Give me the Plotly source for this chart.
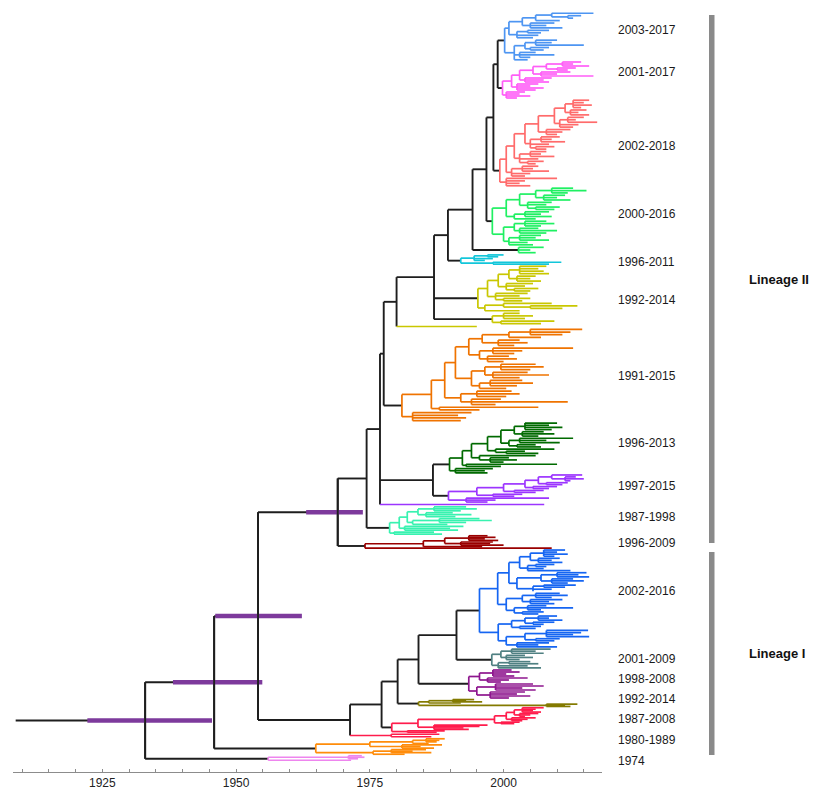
import plotly.graph_objects as go

# ======================= DATA =======================
ROOT_STEM_START = 1908.8

# clades, top to bottom, with the number of sequences (rows) each occupies
CLADE_KEYS = ["BL", "MG", "RD", "GR", "GRs", "CY", "YLm", "YLs", "YLt", "OR", "DG", "PU", "PUt",
              "AQ", "DR", "BL2", "SL", "PM", "OL", "RED", "REDe", "OR2", "PK"]
CLADE_SEQS = [49, 38, 88, 59, 8, 11, 47, 13, 3, 94, 52, 29, 3, 29, 14,
              99, 21, 30, 8, 26, 5, 17, 6]

# subtrees: node = [node_year, child, child, ...], tip = sampling year
tree_BL = [2000.2,
           [2001.0,
            [2003.5,
             [2006.0, [2009.0, 2016.8, [2012.0, 2014.5, 2013.0]], 2010.5],
             [2005.0, 2009.5, 2008.0, 2011.0]],
            [2002.5, [2004.5, 2008.5, 2007.0], 2006.5, 2005.5]],
           [2002.0,
            [2004.0, [2006.0, 2010.0, 2009.0, 2015.0], [2005.0, 2008.5, 2007.5]],
            [2003.0, 2006.0, 2009.5, 2005.0],
            2004.5]]
tree_MG = [1999.8,
           [2001.5,
            [2003.0,
             [2005.5,
              [2008.0, [2011.0, 2014.5, 2013.0, 2016.0], [2010.0, 2013.5, 2012.0]],
              [2007.0, 2012.5, 2010.0, 2016.8]],
             [2004.0, 2009.0, 2007.5, 2008.5]],
            [2002.5, 2006.5, 2005.0, 2007.5, 2006.0]],
           [2000.5, 2004.0, 2003.0, 2005.0, 2002.5]]
tree_RD = [1999.3,
           [2000.5,
            [2002.0,
             [2004.0,
              [2006.5,
               [2009.5,
                [2011.5, [2013.0, 2016.0, 2015.0, 2016.5, 2014.5], [2012.5, 2015.5, 2014.0, 2016.0]],
                [2010.5, [2012.0, 2015.0, 2013.5, 2017.5], 2014.0, 2013.0]],
               [2008.0, 2012.5, 2011.0, 2010.0]],
              [2005.0, [2007.0, 2010.5, 2009.0, 2011.5], 2008.5, [2006.0, 2009.5, 2008.0]]],
             [2003.0, [2005.0, 2008.0, 2007.0, 2009.5], 2006.5, [2004.5, 2007.5, 2006.0]]],
            [2001.5, [2003.5, 2006.5, 2005.5, 2008.5], 2005.0, 2004.0]],
           [2000.5, 2010.0, 2004.0, 2003.0, 2005.0]]
tree_GR = [1997.9,
           [2000.5,
            [2003.0,
             [2006.0, [2009.0, 2013.0, 2015.5, 2012.0], [2007.5, 2011.5, 2010.0, 2012.5]],
             [2004.5, 2009.0, 2008.0, [2006.0, 2010.5, 2009.5]]],
            [2002.0, [2004.0, 2008.5, 2007.0, 2009.0], 2006.0]],
           [2000.0,
            [2002.0, [2004.0, 2008.0, 2009.5, 2007.0], [2003.0, 2006.5, 2010.0, 2008.0]],
            [2001.0, [2003.0, 2007.0, 2006.0, 2008.5], 2004.5, 2005.5]]]
tree_GRs = [2002.8, 2007.5, 2005.0, 2006.0]
tree_CY = [1992.0, [1994.5, [1997.0, 2000.0, 1999.0], 1998.0, 1996.5], [1998.0, 2010.8, 2008.5]]
tree_YLm = [1995.2,
            [1997.0,
             [1999.0,
              [2001.0, [2003.0, 2008.0, 2006.5, 2007.5, 2008.5], [2002.5, 2006.0, 2005.0, 2007.0]],
              [2000.5, 2005.5, 2004.0, [2002.0, 2006.5, 2005.0]]],
             [1998.5, 2004.5, 2003.0, [2000.0, 2005.0, 2003.5]]],
            [1996.5, [2000.0, 2009.0, [2005.0, 2013.8, 2011.0]], 2003.0]]
tree_YLs = [1997.9, [2000.0, 2003.0, 2005.5, 2004.0], [1999.5, 2009.5, 2007.0]]
tree_YLt = 1995.0
tree_OR = [1981.0,
           [1986.5,
            [1989.0,
             [1991.0,
              [1993.5,
               [1996.0, [2001.0, [2005.0, 2014.7, 2012.5, 2011.0], 2007.0], [1999.0, 2003.0, 2004.5, 2002.0]],
               [1995.5, [1998.0, 2013.0, 2003.5, 2002.0], [1997.0, 2001.0, 2002.5, 2000.0]]],
              [1994.0,
               [1996.5, [1999.5, 2006.0, 2007.5, 2005.0], [1998.0, 2004.5, 2008.5, 2003.0]],
               [1995.5, [1997.5, 2003.5, 2005.5, 2002.5], 2000.5]]],
             [1992.0, [1995.0, 2001.5, 2003.0, 2000.5], [1994.0, 1999.5, 2012.0, 1998.5]]],
            [1988.0, 2006.5, 1995.5]],
           [1983.0, 1994.0, 1991.5, 1993.0, 1992.0]]
tree_DG = [1989.9,
           [1992.3,
            [1994.0,
             [1997.0,
              [1999.5,
               [2002.0, [2004.0, 2010.0, 2008.5, 2011.0, 2009.0], [2003.5, 2007.5, 2009.5, 2006.5]],
               [2001.0, [2003.0, 2013.0, 2008.0, 2010.5], [2002.5, 2006.0, 2007.0]]],
              [1998.5, 2009.5, [2000.5, 2004.0, 2006.5]]],
             [1995.5, 2006.0, [1997.5, 2001.0, 2002.5, 2000.0]]],
            [1993.0, 2010.0, 1999.5]],
           [1991.0, 1998.0, 1996.5, 1997.0]]
tree_PU = [1989.7,
           [1995.0,
            [2000.0,
             [2004.0,
              [2006.5, [2009.0, 2014.7, [2011.5, 2013.5, 2015.0, 2012.5]], [2008.0, 2012.0, 2011.0]],
              [2005.5, 2010.0, 2008.5]],
             [2002.0, 2007.5, 2006.0]],
            [1998.0, 2003.5, 2002.0]],
           [1993.0, 2008.5, 1998.5, 1997.0]]
tree_PUt = 2007.6
tree_AQ = [1978.7,
           [1980.5,
            [1982.0,
             [1984.0, [1987.0, 1993.0, 1995.0, 1992.0], [1985.5, 1990.5, 1994.0, 1991.0]],
             [1983.0, [1988.0, 1995.5, 1997.8, 1993.0], 1989.5]],
            [1981.5, 1992.5, 1990.0, 1991.5]],
           [1979.5, 1987.0, 1988.5]]
tree_DR = [1974.1,
           [1985.0,
            [1989.0, [1993.5, 1997.0, 1998.5, 1996.5, 1999.0], [1992.0, 1998.0, 1997.5, 2000.0]],
            1996.0],
           2009.0]
tree_BL2 = [1995.5,
            [1998.9,
             [2001.0,
              [2003.0,
               [2005.0, [2007.5, 2011.5, 2010.0, 2012.0, 2009.5], [2006.5, 2010.5, 2009.0, 2011.0]],
               [2004.5, [2006.0, 2009.5, 2008.0], 2007.5, 2012.5]],
              [2002.5,
               [2007.0, [2010.0, 2015.5, 2014.0, 2016.0], [2009.0, 2013.0, 2015.0, 2012.0]],
               [2005.5, [2007.5, 2013.5, 2011.5], 2009.0, 2005.5]]],
             [2000.5,
              [2003.5, [2006.0, 2010.5, 2012.0, 2009.0], [2005.0, 2011.0, 2008.5, 2009.5]],
              [2002.0, [2004.5, 2008.0, 2013.0, 2007.0], [2003.5, 2007.5, 2006.5]]]],
            [1999.0,
             [2001.5,
              [2004.0, [2006.5, 2010.0, 2008.5, 2011.0], [2005.5, 2009.5, 2007.5]],
              [2003.0, 2007.0, 2006.0]],
             [2000.5,
              [2004.0, [2008.0, 2015.8, 2014.5, 2013.0, 2016.0], [2006.0, 2010.5, 2009.5]],
              [2002.5, 2008.5, 2006.5, 2010.0]]]]
tree_SL = [1997.8,
           [1999.5, [2001.5, 2008.8, 2006.0, 2007.5], [2000.5, 2004.0, 2005.5, 2003.0]],
           [1999.0, [2001.0, 2005.0, 2006.5], 2004.5, 2007.0]]
tree_PM = [1993.5,
           [1995.5, [1998.0, 2001.5, 2003.0, 2000.5, 2002.0], [1997.0, 2004.5, 2001.0, 1999.5]],
           [1995.0, [1998.5, 2005.5, 2007.5, 2003.5, 2006.0], [1997.5, 2004.0, 2002.5, 2005.0, 2001.0]]]
tree_OL = [1984.1, [1986.0, [1990.5, 1994.5, 1993.0, 1996.0], 1992.0], [2008.0, 2013.8, 2011.5, 2012.5]]
tree_RED = [1979.1,
            [1984.0,
             [1998.3,
              [2000.5,
               [2002.0, [2003.5, 2007.5, 2006.0, 2005.5, 2007.0], [2003.0, 2006.5, 2005.0, 2004.0]],
               [2001.5, 2006.0, 2004.5, 2003.5]],
              [1999.5, 2003.0, 2002.0]],
             [1987.0, 1997.0, 1995.5, 1992.5, 1993.5]],
            [1982.0, 1989.0, 1987.5]]
tree_REDe = [1979.0, 1988.0, 1986.5]
tree_OR2 = [1964.9,
            [1975.0, [1983.0, [1985.5, 1989.0, 1988.0, 1987.5], 1986.0], [1981.0, 1988.5, 1984.5, 1987.0]],
            [1975.6, [1979.0, 1985.5, 1983.0, 1986.5], 1981.5]]
tree_PK = [1956.0, [1971.0, 1973.5, 1974.0, 1972.8], 1971.5]

CLADE_TREES = [tree_BL, tree_MG, tree_RD, tree_GR, tree_GRs, tree_CY, tree_YLm, tree_YLs, tree_YLt,
               tree_OR, tree_DG, tree_PU, tree_PUt, tree_AQ, tree_DR, tree_BL2, tree_SL, tree_PM,
               tree_OL, tree_RED, tree_REDe, tree_OR2, tree_PK]

# backbone: [name, node_year, children...]; strings refer to clades
BACKBONE = ["root", 1933.0,
            ["n1946", 1945.9,
             ["n1954", 1954.1,
              ["A", 1969.0,
               ["B", 1974.4,
                ["C", 1976.9,
                 ["D", 1977.6,
                  ["F", 1980.0,
                   ["G", 1987.0,
                    ["H", 1989.6,
                     ["I", 1994.2,
                      ["J", 1996.8,
                       ["K", 1998.1,
                        ["L", 1998.9, "BL", "MG"],
                        "RD"],
                       "GR"],
                      "GRs"],
                     "CY"],
                    "YLm", "YLs"],
                   "YLt"],
                  "OR"],
                 ["E", 1986.8, "DG", "PU"],
                 "PUt"],
                "AQ"],
               "DR"],
              ["L1", 1971.3,
               ["L2", 1977.2,
                ["L3", 1980.2,
                 ["L4", 1984.1,
                  ["L5", 1991.2, "BL2", "SL"],
                  "PM"],
                 "OL"],
                "RED"],
               "REDe"]],
             "OR2"],
            "PK"]

HPD_NODES = ["root", "n1946", "n1954", "A"]
HPD_LOW = [1922.2, 1938.2, 1946.1, 1963.1]
HPD_HIGH = [1945.5, 1954.9, 1962.3, 1973.7]

LABEL_TEXTS = ["2003-2017", "2001-2017", "2002-2018", "2000-2016", "1996-2011", "1992-2014",
               "1991-2015", "1996-2013", "1997-2015", "1987-1998", "1996-2009",
               "2002-2016", "2001-2009", "1998-2008", "1992-2014", "1987-2008", "1980-1989", "1974"]
LABEL_GROUPS = [["BL"], ["MG"], ["RD"], ["GR", "GRs"], ["CY"], ["YLm", "YLs", "YLt"], ["OR"], ["DG"],
                ["PU", "PUt"], ["AQ"], ["DR"], ["BL2"], ["SL"], ["PM"], ["OL"], ["RED", "REDe"],
                ["OR2"], ["PK"]]

LINEAGE_NAMES = ["Lineage II", "Lineage I"]
LINEAGE_GROUPS = [["BL", "DR"], ["BL2", "PK"]]

X_TICKS = [1925, 1950, 1975, 2000]

# ======================= STYLE =======================
BLACK = "#1e1e1e"
HPD_COLOR = "#7d3a9c"
COLORS = {"BL": "#4d95f2", "MG": "#ff5ef7", "RD": "#ff6b6b", "GR": "#1ff062", "GRs": "#1ff062",
          "CY": "#12c6da", "YLm": "#c9c700", "YLs": "#c9c700", "YLt": "#c9c700", "OR": "#ef7300",
          "DG": "#006a00", "PU": "#9c35ff", "PUt": "#9c35ff", "AQ": "#38f2b0", "DR": "#9a0000",
          "BL2": "#1565f2", "SL": "#4f8082", "PM": "#8e168e", "OL": "#837a00", "RED": "#ff1c4c",
          "REDe": "#ff1c4c", "OR2": "#ff8c0a", "PK": "#ee85ee"}
STEM_COLORED = {"YLt", "PUt", "REDe"}
LABEL_NUDGE = [-6.5, -8, 3, -6.5, 2.5, 3.5, 1, -5, -4, -3.5, 1, -7.5, 0.5, -5, -4, -3.5, -6.5, 3]

FIG_W, FIG_H = 813, 792
M_L, M_R, M_T, M_B = 13, 211, 0, 20
ROW0_PX = 12  # pixel of first row
X_RANGE = [1908.3, 2018.4]
FONT = "Arial, Liberation Sans, sans-serif"

# ======================= LAYOUT =======================
segs = {}


def add(color, x0, y0, x1, y1):
    segs.setdefault(color, []).append((x0, y0, x1, y1))


def count_tips(node):
    if isinstance(node, (int, float)):
        return 1
    return sum(count_tips(c) for c in node[1:])


def draw_clade(tree, r0, n, color):
    k = count_tips(tree)
    state = {"i": 0}

    def rec(node):
        if isinstance(node, (int, float)):
            y = r0 + (state["i"] + 0.5) * n / k
            state["i"] += 1
            return node, y
        t = node[0]
        kids = [rec(c) for c in node[1:]]
        for ct, cy in kids:
            add(color, t, cy, ct, cy)
        add(color, t, kids[0][1], t, kids[-1][1])
        return t, (kids[0][1] + kids[-1][1]) / 2

    return rec(tree)


row = [0.0]
blocks = {}
node_pos = {}


def draw_bb(node):
    if isinstance(node, str):
        idx = CLADE_KEYS.index(node)
        n = CLADE_SEQS[idx]
        r0 = row[0]
        row[0] += n
        blocks[node] = (r0, r0 + n)
        t, y = draw_clade(CLADE_TREES[idx], r0, n, COLORS[node])
        return t, y, node
    name, t = node[0], node[1]
    kids = [draw_bb(c) for c in node[2:]]
    for ct, cy, ck in kids:
        col = COLORS[ck] if ck in STEM_COLORED else BLACK
        add(col, t, cy, ct, cy)
    add(BLACK, t, kids[0][1], t, kids[-1][1])
    y = (kids[0][1] + kids[-1][1]) / 2
    node_pos[name] = (t, y, kids[0][1], kids[-1][1])
    return t, y, None


rt, ry, _ = draw_bb(BACKBONE)
add(BLACK, ROOT_STEM_START, ry, rt, ry)

fig = go.Figure()


def seg_trace(seglist, color, width):
    xs, ys = [], []
    for x0, y0, x1, y1 in seglist:
        xs += [x0, x1, None]
        ys += [y0, y1, None]
    return go.Scatter(x=xs, y=ys, mode="lines", line=dict(color=color, width=width),
                      hoverinfo="skip", showlegend=False)


fig.add_trace(seg_trace(segs[BLACK], BLACK, 1.9))
for col, sl in segs.items():
    if col != BLACK:
        fig.add_trace(seg_trace(sl, col, 1.7))

# HPD bars
bars = []
for nm, lo, hi in zip(HPD_NODES, HPD_LOW, HPD_HIGH):
    t, y, y0, y1 = node_pos[nm]
    bars.append((lo, y, hi, y))
fig.add_trace(seg_trace(bars, HPD_COLOR, 4.5))
verts = []
for nm in HPD_NODES:
    t, y, y0, y1 = node_pos[nm]
    verts.append((t, y0, t, y1))
fig.add_trace(seg_trace(verts, BLACK, 1.9))

plot_w = FIG_W - M_L - M_R


def px_to_paper(px):
    return (px - M_L) / plot_w


# clade labels
for txt, grp, nud in zip(LABEL_TEXTS, LABEL_GROUPS, LABEL_NUDGE):
    a = blocks[grp[0]][0]
    b = blocks[grp[-1]][1]
    fig.add_annotation(x=px_to_paper(616), xref="paper", y=(a + b) / 2 + nud, yref="y",
                       text=txt, showarrow=False, xanchor="left", yanchor="middle",
                       font=dict(family=FONT, size=12, color="#1a1a1a"))

# lineage bars and names
for nm, (g0, g1) in zip(LINEAGE_NAMES, LINEAGE_GROUPS):
    a = blocks[g0][0] + 3
    b = blocks[g1][1] - 6
    fig.add_shape(type="rect", xref="paper", yref="y", x0=px_to_paper(709), x1=px_to_paper(714.5),
                  y0=a, y1=b, fillcolor="#8a8a8a", line=dict(width=0))
    fig.add_annotation(x=px_to_paper(747), xref="paper", y=(a + b) / 2, yref="y", text="<b>%s</b>" % nm,
                       showarrow=False, xanchor="left", yanchor="middle",
                       font=dict(family=FONT, size=13, color="#111111"))

fig.update_layout(
    width=FIG_W, height=FIG_H,
    margin=dict(l=M_L, r=M_R, t=M_T, b=M_B, pad=0),
    paper_bgcolor="white", plot_bgcolor="white",
    showlegend=False,
    xaxis=dict(range=X_RANGE, tickvals=X_TICKS, ticktext=[str(v) for v in X_TICKS],
               showgrid=False, zeroline=False, showline=True, linecolor="#8c8c8c", linewidth=1,
               ticks="inside", ticklen=3, tickcolor="#8c8c8c",
               minor=dict(dtick=5, tick0=1925, ticks="inside", ticklen=3, tickcolor="#8c8c8c"),
               tickfont=dict(family=FONT, size=12, color="#222222"), fixedrange=True),
    yaxis=dict(range=[FIG_H - M_B - ROW0_PX, -ROW0_PX], visible=False, fixedrange=True),
)

fig.write_html("out.html", config={"displayModeBar": False},
               post_script="document.body.style.margin='0px';document.body.style.overflow='hidden';")
